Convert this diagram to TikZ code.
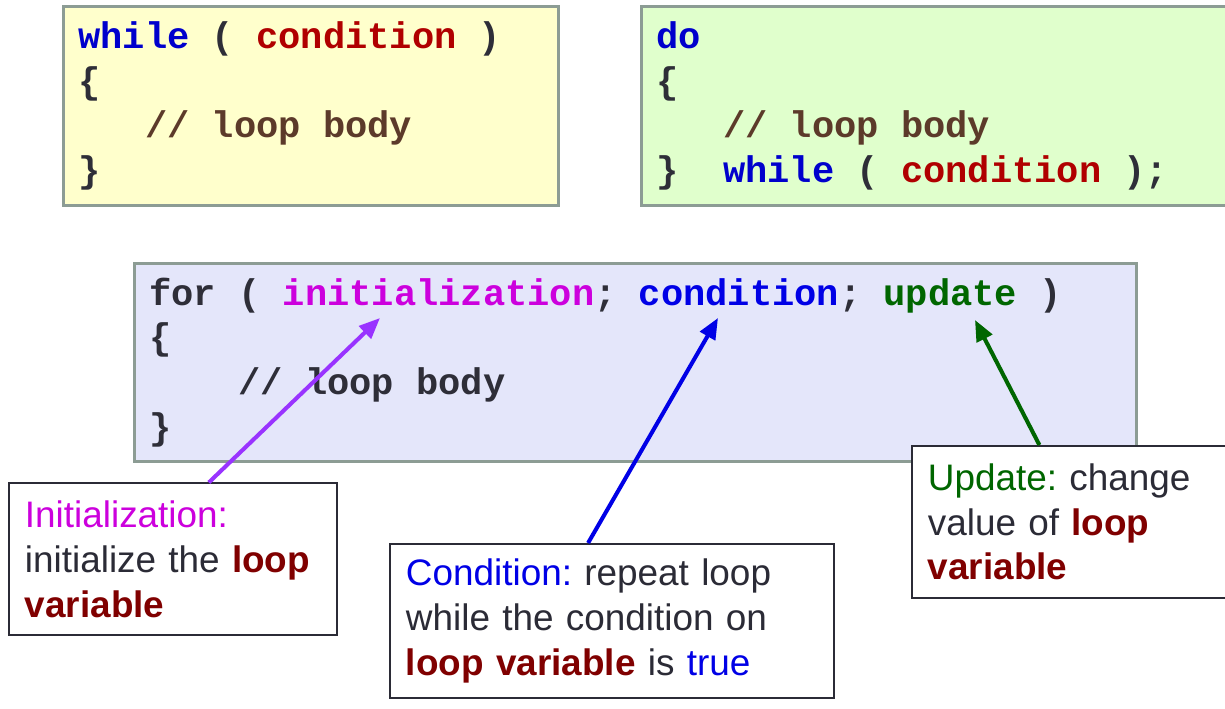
\documentclass[tikz,border=0pt]{standalone}
\usepackage{fontspec}
\setmainfont{Liberation Sans}
\setmonofont{Liberation Mono}
\usepackage{xcolor}
\usetikzlibrary{arrows.meta}
\definecolor{kwblue}{HTML}{0000CC}
\definecolor{condred}{HTML}{B00000}
\definecolor{cmtbrown}{HTML}{5C3A2A}
\definecolor{codedark}{HTML}{2E2E38}
\definecolor{initmag}{HTML}{CC00DD}
\definecolor{condblue}{HTML}{0000E6}
\definecolor{updgreen}{HTML}{006600}
\definecolor{initpurple}{HTML}{9933FF}
\definecolor{varred}{HTML}{800000}
\definecolor{txtdark}{HTML}{2B2B36}
\definecolor{whilefill}{HTML}{FFFFCC}
\definecolor{dofill}{HTML}{E0FFCC}
\definecolor{forfill}{HTML}{E4E6FA}
\definecolor{boxgray}{HTML}{8C9C94}
% one monospace cell of blank space
\newcommand{\csp}[1][1]{\hspace*{#1\dimexpr0.6em\relax}}
\tikzset{codebox/.style = {draw=boxgray, line width=1.7pt, anchor=north west, align=left,
    inner xsep=0.3cm, text=codedark,
    font=\ttfamily\bfseries\fontsize{21.1pt}{25.5pt}\selectfont}}
\tikzset{notebox/.style = {draw=txtdark, fill=white, line width=1.1pt, anchor=north west, align=left,
    inner xsep=0.32cm, text=txtdark,
    font=\fontsize{21pt}{25.5pt}\selectfont\frenchspacing}}
\tikzset{pointer/.style = {line width=2.3pt, -{Triangle[length=0.42cm, width=0.34cm]}}}
\newcommand{\lv}[1]{\textcolor{varred}{\bfseries #1}}

\begin{document}
\begin{tikzpicture}[x=0.02cm, y=-0.02cm]
    \useasboundingbox (0,0) rectangle (1225,709);

    \node[codebox, fill=whilefill, text width=9.3cm, minimum height=3.98cm] (while) at (62,5)
        {\textcolor{kwblue}{while}\csp(\csp\textcolor{condred}{condition}\csp)\\
         \{\\
         \csp[3]\textcolor{cmtbrown}{//\csp{}loop\csp{}body}\\
         \}};
    \node[codebox, fill=dofill, text width=11.12cm, minimum height=3.98cm] (do) at (640,5)
        {\textcolor{kwblue}{do}\\
         \{\\
         \csp[3]\textcolor{cmtbrown}{//\csp{}loop\csp{}body}\\
         \}\csp[2]\textcolor{kwblue}{while}\csp(\csp\textcolor{condred}{condition}\csp);};
    \node[codebox, fill=forfill, text width=19.44cm, minimum height=3.96cm] (for) at (133,262)
        {for\csp(\csp\textcolor{initmag}{initialization};\csp\textcolor{condblue}{condition};\csp\textcolor{updgreen}{update}\csp)\\
         \{\\
         \csp[4]//\csp{}loop\csp{}body\\
         \}};

    \node[notebox, text width=5.92cm, minimum height=3.04cm] (initnote) at (8,482.5)
        {\textcolor{initmag}{Initialization:}\\
         initialize the \lv{loop}\\
         \lv{variable}};
    \node[notebox, text width=8.24cm, minimum height=3.08cm] (condnote) at (389,543)
        {\textcolor{condblue}{Condition:} repeat loop\\
         while the condition on\\
         \lv{loop variable} is \textcolor{condblue}{true}};
    \node[notebox, text width=5.64cm, minimum height=3.04cm] (updnote) at (911,445)
        {\textcolor{updgreen}{Update:} change\\
         value of \lv{loop}\\
         \lv{variable}};

    \coordinate (inittip) at (380,318);
    \coordinate (condtip) at (718,318);
    \coordinate (updtip)  at (975,320);

    \draw[pointer, initpurple] (initnote.65) -- (inittip);
    \draw[pointer, condblue] (condnote.107) -- (condtip);
    \draw[pointer, updgreen] (updnote.111) -- (updtip);
\end{tikzpicture}
\end{document}
